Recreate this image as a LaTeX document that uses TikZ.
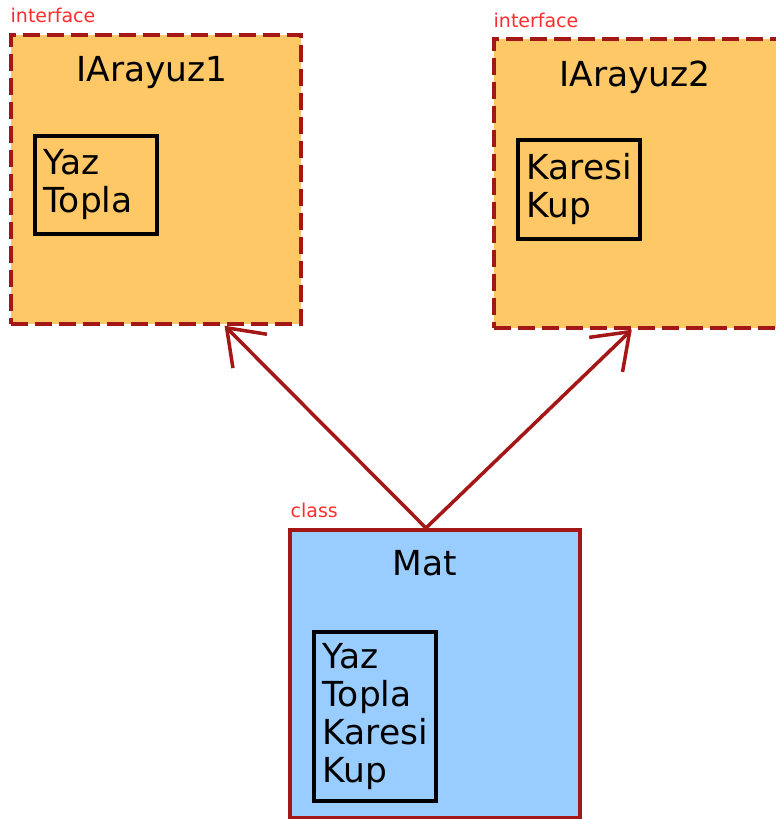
\documentclass[tikz,border=0pt]{standalone}
\usepackage{fontspec}
\setmainfont{DejaVu Sans}
\usetikzlibrary{arrows.meta,calc,positioning}
\definecolor{ifaceorange}{RGB}{255,200,102}
\definecolor{classblue}{RGB}{153,204,255}
\definecolor{edgered}{RGB}{165,22,22}
\definecolor{tagred}{RGB}{255,45,45}

\begin{document}
\begin{tikzpicture}[
  font=\fontsize{9.8}{10.8}\selectfont,
  iface/.style={draw=edgered, fill=ifaceorange, line width=1.05pt,
                dash pattern=on 0.17cm off 0.07cm,
                minimum width=2.90cm, minimum height=2.89cm, inner sep=0pt},
  cls/.style={draw=edgered, fill=classblue, line width=1pt,
              minimum width=2.90cm, minimum height=2.88cm, inner sep=0pt},
  members/.style={draw=black, line width=1pt, text width=1.04cm,
                  align=left, inner xsep=0.09cm, inner ysep=0pt},
  tag/.style={text=tagred, font=\fontsize{5.4}{6}\selectfont, inner sep=0pt},
  realize/.style={draw=edgered, line width=1pt,
                  -{Straight Barb[length=0.33cm, width=0.48cm]}}
]
\useasboundingbox (0,0) rectangle (7.76,8.19);

% Prvi vmesnik
\node[iface, anchor=north west] (ia1) at (0.09,7.86) {};
\node[tag, anchor=base west] (ia1tag) at (0.10,7.96) {interface};
\node[anchor=base, inner sep=0pt] (ia1name) at (1.52,7.37) {IArayuz1};
\node[members, minimum height=0.98cm, anchor=north west]
  (ia1ops) at (0.33,6.85) {Yaz\\Topla};

% Drugi vmesnik
\node[iface, anchor=north west] (ia2) at (4.92,7.82) {};
\node[tag, anchor=base west] (ia2tag) at (4.93,7.91) {interface};
\node[anchor=base, inner sep=0pt] (ia2name) at (6.35,7.32) {IArayuz2};
\node[members, minimum height=0.99cm, anchor=north west]
  (ia2ops) at (5.16,6.81) {Karesi\\Kup};

% Razred
\node[cls, anchor=north west] (mat) at (2.88,2.91) {};
\node[tag, anchor=base west] (mattag) at (2.90,3.02) {class};
\node[anchor=base, inner sep=0pt] (matname) at (4.25,2.43) {Mat};
\node[members, minimum height=1.69cm, anchor=north west]
  (matops) at (3.12,1.89) {Yaz\\Topla\\Karesi\\Kup};

% Realizacija
\draw[realize] ($(mat.north west)!0.47!(mat.north east)$)
  -- ($(ia1.south west)!0.734!(ia1.south east)$);
\draw[realize] ($(mat.north west)!0.47!(mat.north east)$)
  -- ($(ia2.south west)!0.476!(ia2.south east)$);

\end{tikzpicture}
\end{document}
